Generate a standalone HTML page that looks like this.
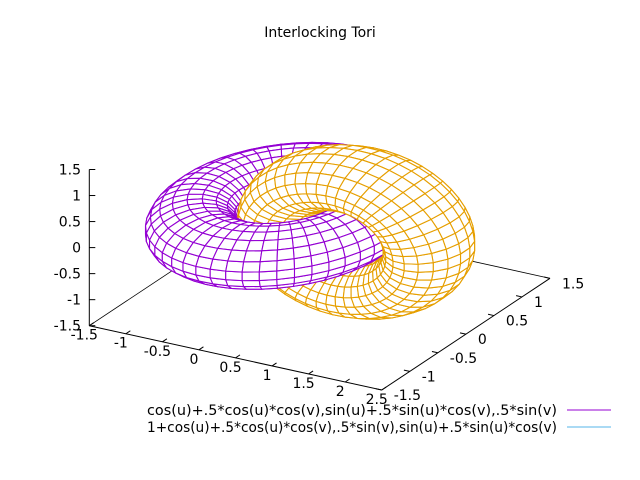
<!DOCTYPE html>
<html><head><meta charset="utf-8"><style>
body{margin:0;background:#fff}
svg{display:block;font-family:"DejaVu Sans","Liberation Sans",sans-serif;font-size:14px}
</style></head><body>
<svg id="chart" width="640" height="480" viewBox="0 0 640 480" xmlns="http://www.w3.org/2000/svg">
<rect width="640" height="480" fill="#fff"/>
<text x="320" y="37" text-anchor="middle">Interlocking Tori</text>
<g id="back"></g>
<g id="surf"></g>
<g id="axes"></g>
<g id="legend">
<text x="557" y="415" text-anchor="end" textLength="410" lengthAdjust="spacingAndGlyphs">cos(u)+.5*cos(u)*cos(v),sin(u)+.5*sin(u)*cos(v),.5*sin(v)</text>
<line x1="567" y1="410" x2="611" y2="410" stroke="#9400d3"/>
<text x="557" y="432" text-anchor="end" textLength="410" lengthAdjust="spacingAndGlyphs">1+cos(u)+.5*cos(u)*cos(v),.5*sin(v),sin(u)+.5*sin(u)*cos(v)</text>
<line x1="567" y1="427" x2="611" y2="427" stroke="#56b4e9"/>
</g>
</svg>
<script>
const xTicks=[-1.5,-1,-0.5,0,0.5,1,1.5,2,2.5];
const yTicks=[-1.5,-1,-0.5,0,0.5,1,1.5];
const zTicks=[-1.5,-1,-0.5,0,0.5,1,1.5];
const xRange=[-1.5,2.5];
const yRange=[-1.5,1.5];
const zRange=[-1.5,1.5];
const isoU=50;
const isoV=20;
const torusColors=["#9400d3","#e69f00"];

const NS="http://www.w3.org/2000/svg";
const O=[89.3,325.7], EX=[73.1,16.08], EY=[56.1,-37.23], EZ=[0,-52.07];
function P(x,y,z){
  const a=x-xRange[0],b=y-yRange[0],c=z-zRange[0];
  return [O[0]+a*EX[0]+b*EY[0]+c*EZ[0], O[1]+a*EX[1]+b*EY[1]+c*EZ[1]];
}
function depth(x,y,z){return -2923*x+3808*y-3622*z;}
function mk(tag,attrs,parent){const e=document.createElementNS(NS,tag);for(const k in attrs)e.setAttribute(k,attrs[k]);parent.appendChild(e);return e;}
const back=document.getElementById('back'),surf=document.getElementById('surf'),axes=document.getElementById('axes');

let c1=P(xRange[0],yRange[0],zRange[0]),c2=P(xRange[0],yRange[1],zRange[0]),c3=P(xRange[1],yRange[1],zRange[0]),c4=P(xRange[1],yRange[0],zRange[0]);
let bl=mk('polyline',{points:[c1,c2,c3].map(p=>p.join(',')).join(' '),fill:'none',stroke:'#000','stroke-width':0.8},back);



const tori=[
 (u,v)=>[Math.cos(u)+.5*Math.cos(u)*Math.cos(v),Math.sin(u)+.5*Math.sin(u)*Math.cos(v),.5*Math.sin(v)],
 (u,v)=>[1+Math.cos(u)+.5*Math.cos(u)*Math.cos(v),.5*Math.sin(v),Math.sin(u)+.5*Math.sin(u)*Math.cos(v)]
];
const quads=[];
tori.forEach((f,t)=>{
  const g=[];
  for(let i=0;i<isoU;i++){g.push([]);for(let j=0;j<isoV;j++){
    const u=-Math.PI+2*Math.PI*i/(isoU-1), v=-Math.PI+2*Math.PI*j/(isoV-1);
    g[i].push(f(u,v));}}
  for(let i=0;i<isoU-1;i++)for(let j=0;j<isoV-1;j++){
    const pts=[g[i][j],g[i+1][j],g[i+1][j+1],g[i][j+1]];
    let d=0;pts.forEach(p=>d+=depth(p[0],p[1],p[2]));
    quads.push({t,pts,d});
  }
});
quads.sort((a,b)=>b.d-a.d);
quads.forEach(q=>{
  const e=mk('polygon',{points:q.pts.map(p=>P(p[0],p[1],p[2]).map(n=>n.toFixed(2)).join(',')).join(' '),fill:'#fff',stroke:torusColors[q.t],'stroke-width':1.1,'stroke-linejoin':'round'},surf);
  
  
});

let fe=mk('polyline',{points:[c1,c4,c3].map(p=>p.join(',')).join(' '),fill:'none',stroke:'#000','stroke-width':1},axes);


let zt=P(xRange[0],yRange[0],zRange[1]);
let za=mk('line',{x1:c1[0],y1:c1[1],x2:zt[0],y2:zt[1],stroke:'#000','stroke-width':1},axes);



xTicks.forEach(v=>{
  const p=P(v,yRange[0],zRange[0]),q=P(v,yRange[0]+0.08,zRange[0]);
  const l=mk('line',{x1:p[0],y1:p[1],x2:q[0],y2:q[1],stroke:'#000'},axes);
  
  
  const t=mk('text',{x:p[0]-5,y:p[1]+14,'text-anchor':'middle'},axes);
  t.textContent=String(v);
  
  
});
yTicks.forEach(v=>{
  const p=P(xRange[1],v,zRange[0]),q=P(xRange[1]-0.08,v,zRange[0]);
  const l=mk('line',{x1:p[0],y1:p[1],x2:q[0],y2:q[1],stroke:'#000'},axes);
  
  
  const t=mk('text',{x:p[0]+12,y:p[1]+10,'text-anchor':'start'},axes);
  t.textContent=String(v);
  
  
});
zTicks.forEach(v=>{
  const p=P(xRange[0],yRange[0],v);
  const l=mk('line',{x1:p[0],y1:p[1],x2:p[0]+6,y2:p[1],stroke:'#000'},axes);
  
  
  const t=mk('text',{x:81,y:p[1]+5,'text-anchor':'end'},axes);
  t.textContent=String(v);
  
  
});
</script>
</body></html>
